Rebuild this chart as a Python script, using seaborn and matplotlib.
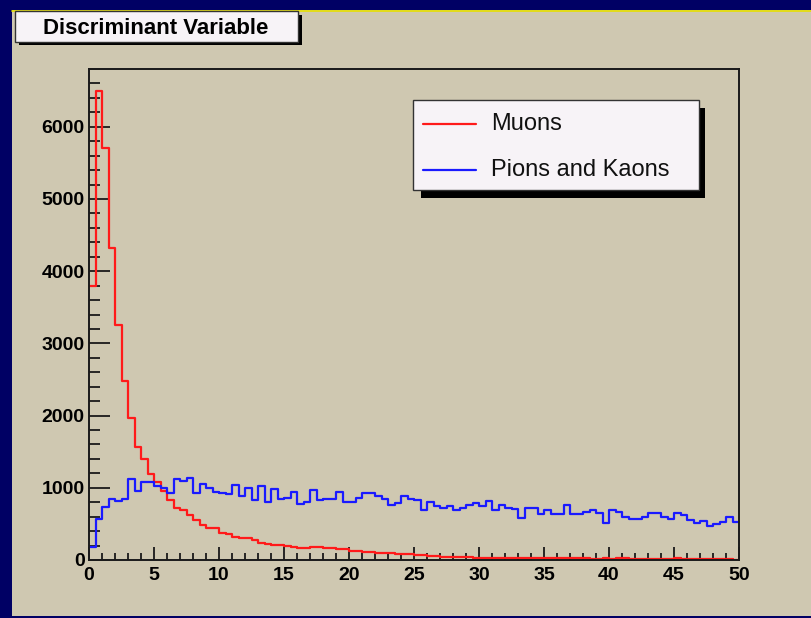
import numpy as np
import pandas as pd
import matplotlib
matplotlib.use("Agg")
import matplotlib.pyplot as plt
from matplotlib.patches import Rectangle
from matplotlib.lines import Line2D
from matplotlib.ticker import MultipleLocator
import seaborn as sns

# ---- data: 100 bins of width 0.5 on [0, 50] ----
x_min, x_max, n_bins = 0.0, 50.0, 100

muons = [
    3800, 6500, 5700, 4320, 3250, 2480, 1962, 1570, 1395, 1190,
    1075, 950, 835, 720, 690, 625, 555, 490, 440, 440,
    375, 365, 325, 310, 300, 275, 235, 215, 210, 205,
    200, 180, 165, 170, 185, 180, 165, 160, 150, 150,
    125, 125, 115, 110, 100, 100, 95, 90, 90, 80,
    75, 70, 55, 50, 45, 40, 38, 35, 35, 33,
    32, 30, 30, 28, 30, 22, 28, 30, 26, 25,
    28, 25, 24, 22, 28, 25, 22, 20, 18, 22,
    20, 30, 25, 18, 20, 15, 15, 14, 12, 15,
    25, 12, 10, 10, 8, 8, 10, 8, 8, 6,
]

pions_kaons = [
    185, 565, 738, 850, 822, 850, 1118, 956, 1076, 1076,
    1025, 993, 924, 1118, 1097, 1129, 933, 1048, 993, 947,
    933, 918, 1039, 887, 995, 832, 1020, 802, 985, 840,
    855, 940, 780, 808, 965, 830, 850, 850, 947, 808,
    808, 854, 928, 928, 882, 848, 766, 795, 882, 840,
    825, 693, 800, 748, 722, 750, 697, 722, 768, 785,
    750, 815, 698, 760, 720, 712, 577, 716, 716, 635,
    693, 640, 633, 762, 633, 633, 670, 690, 647, 517,
    693, 670, 600, 563, 563, 600, 647, 647, 600, 563,
    647, 624, 554, 517, 545, 471, 494, 531, 591, 531,
]

series_labels = ["Muons", "Pions and Kaons"]
series_colors = ["#ff1a1a", "#1a1aff"]
title_text = "Discriminant Variable"
x_major, x_minor = 5, 1
y_major, y_minor = 1000, 200
y_top = 6800

# ---- styling ----
NAVY = "#000064"
TAN = "#cfc8b1"
BOX = "#f7f3f7"
INK = "#1a1a1a"

sns.set_theme(style="ticks")
plt.rcParams["font.family"] = ["Liberation Sans", "DejaVu Sans"]

W, H = 811, 618
fig = plt.figure(figsize=(W / 100, H / 100), dpi=100)
fig.patch.set_facecolor(NAVY)


def fx(px):
    return px / W


def fy(py):
    return 1 - py / H


def fig_rect(x0, y0, x1, y1, **kw):
    r = Rectangle((fx(x0), fy(y1)), fx(x1) - fx(x0), fy(y0) - fy(y1),
                  transform=fig.transFigure, **kw)
    fig.add_artist(r)
    return r


# canvas pad with its yellow top edge
fig_rect(12, 10, 811, 616, facecolor=TAN, edgecolor="none", zorder=0)
fig.add_artist(Line2D([fx(12), 1.0], [fy(10.5), fy(10.5)], color="#e6e000",
                      lw=1.2, transform=fig.transFigure, zorder=1))

# ---- plot frame ----
ax = fig.add_axes([fx(89), fy(560), fx(739) - fx(89), fy(69) - fy(560)])
ax.set_facecolor(TAN)

edges = np.linspace(x_min, x_max, n_bins + 1)
centers = (edges[:-1] + edges[1:]) / 2

for label, color, counts in zip(series_labels, series_colors, [muons, pions_kaons]):
    df = pd.DataFrame({"value": centers, "count": counts})
    sns.histplot(data=df, x="value", weights="count", bins=n_bins,
                 binrange=(x_min, x_max), element="step", fill=False,
                 color=color, linewidth=1.6, ax=ax)

ax.set_xlim(x_min, x_max)
ax.set_ylim(0, y_top)
ax.set_xlabel("")
ax.set_ylabel("")

ax.xaxis.set_major_locator(MultipleLocator(x_major))
ax.xaxis.set_minor_locator(MultipleLocator(x_minor))
ax.yaxis.set_major_locator(MultipleLocator(y_major))
ax.yaxis.set_minor_locator(MultipleLocator(y_minor))

ax.tick_params(axis="x", which="major", direction="in", length=9.5, width=1.3,
               color=INK, labelsize=14, pad=5, labelcolor="black",
               bottom=True, top=False)
ax.tick_params(axis="x", which="minor", direction="in", length=5, width=1.3,
               color=INK, bottom=True, top=False)
ax.tick_params(axis="y", which="major", direction="in", length=15, width=1.3,
               color=INK, labelsize=14, pad=3, labelcolor="black",
               left=True, right=False)
ax.tick_params(axis="y", which="minor", direction="in", length=8, width=1.3,
               color=INK, left=True, right=False)
for lab in ax.get_xticklabels() + ax.get_yticklabels():
    lab.set_fontweight("bold")

for side in ["left", "right", "top", "bottom"]:
    ax.spines[side].set_visible(True)
    ax.spines[side].set_color(INK)
    ax.spines[side].set_linewidth(1.4)

# ---- title box ----
fig_rect(19, 15, 302, 45, facecolor="black", edgecolor="none", zorder=2)
fig_rect(15, 11, 298, 42, facecolor=BOX, edgecolor="#333333", lw=1.0, zorder=3)
fig.text(fx(155.5), fy(28.5), title_text, ha="center", va="center",
         fontsize=16, fontweight="bold", color="black", zorder=4)

# ---- legend box ----
fig_rect(421, 108, 705, 198, facecolor="black", edgecolor="none", zorder=5)
fig_rect(413, 100, 699, 190, facecolor=BOX, edgecolor="#333333", lw=1.0, zorder=6)
for i, (label, color) in enumerate(zip(series_labels, series_colors)):
    yy = 123.5 + i * 46
    fig.add_artist(Line2D([fx(423), fx(476)], [fy(yy), fy(yy)], color=color,
                          lw=1.6, transform=fig.transFigure, zorder=7))
    fig.text(fx(491), fy(yy + 1), label, ha="left", va="center",
             fontsize=17, color="#111111", zorder=7)

fig.savefig("out.png", dpi=100, facecolor=fig.get_facecolor())
